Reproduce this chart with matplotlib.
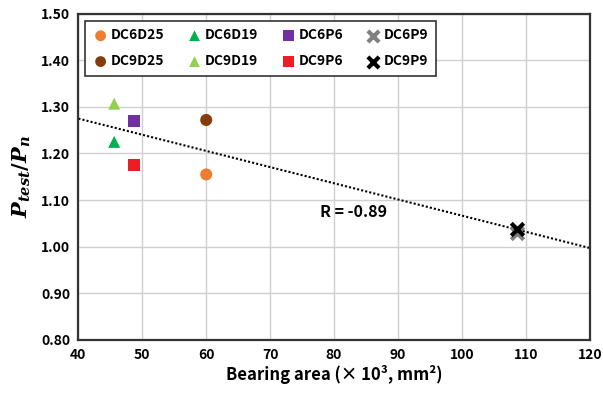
import matplotlib.pyplot as plt

plt.rcParams["font.family"] = ["Noto Sans CJK KR", "DejaVu Sans"]
plt.rcParams["mathtext.fontset"] = "custom"
plt.rcParams["mathtext.it"] = "DejaVu Serif:italic:bold"
plt.rcParams["mathtext.rm"] = "DejaVu Serif:bold"

# specimens: bearing area (x10^3 mm^2) and Ptest/Pn
names = ["DC6D25", "DC9D25", "DC6D19", "DC9D19", "DC6P6", "DC9P6", "DC6P9", "DC9P9"]
area = [60.0, 60.0, 45.6, 45.6, 48.7, 48.7, 108.6, 108.6]
ratio = [1.155, 1.272, 1.225, 1.307, 1.270, 1.175, 1.030, 1.037]
colors = ["#ED7D31", "#843C0C", "#00B050", "#92D050", "#7030A0", "#EE1C25", "#808080", "#000000"]
markers = ["o", "o", "^", "^", "s", "s", "x", "x"]

# linear trend line
trend_x = [40, 120]
trend_y = [1.275, 0.997]

fig, ax = plt.subplots(figsize=(6.03, 3.95), dpi=100)

for n, xv, yv, c, m in zip(names, area, ratio, colors, markers):
    if m == "x":
        ax.scatter(xv, yv, marker=m, s=80, color=c, linewidths=3.0, label=n, zorder=3)
    else:
        ax.scatter(xv, yv, marker=m, s=75, color=c, edgecolors="none", label=n, zorder=3)

ax.plot(trend_x, trend_y, ls=(0, (1, 1)), color="black", lw=1.5, zorder=2)
ax.text(83, 1.075, "R = -0.89", fontsize=11.5, fontweight="bold", ha="center", va="center")

ax.set_xlim(40, 120)
ax.set_ylim(0.80, 1.50)
ax.set_xticks(range(40, 121, 10))
ax.set_yticks([0.8 + 0.1 * i for i in range(8)])
ax.set_yticklabels([f"{0.8 + 0.1 * i:.2f}" for i in range(8)])
ax.tick_params(length=0, labelsize=10, pad=6)
for lbl in ax.get_xticklabels() + ax.get_yticklabels():
    lbl.set_fontweight("bold")
ax.grid(True, color="#d0d0d0", lw=1)
ax.set_axisbelow(True)
for sp in ax.spines.values():
    sp.set_linewidth(1.6)
    sp.set_color("#333333")

ax.set_xlabel("Bearing area (× 10³, mm²)", fontsize=12, fontweight="bold", labelpad=2)
ax.set_ylabel(r"$P_{test}/P_n$", fontsize=15, labelpad=6)

leg = ax.legend(ncol=4, loc="upper left", bbox_to_anchor=(0.0, 1.0), fancybox=False,
                framealpha=1, edgecolor="#333333", prop={"weight": "bold", "size": 10},
                handletextpad=0.2, columnspacing=1.6, borderpad=0.55, labelspacing=0.85,
                handlelength=1.1, markerscale=0.9, scatterpoints=1)
leg.get_frame().set_linewidth(1.2)

fig.subplots_adjust(left=0.13, right=0.978, top=0.965, bottom=0.14)
fig.savefig("out.png")
